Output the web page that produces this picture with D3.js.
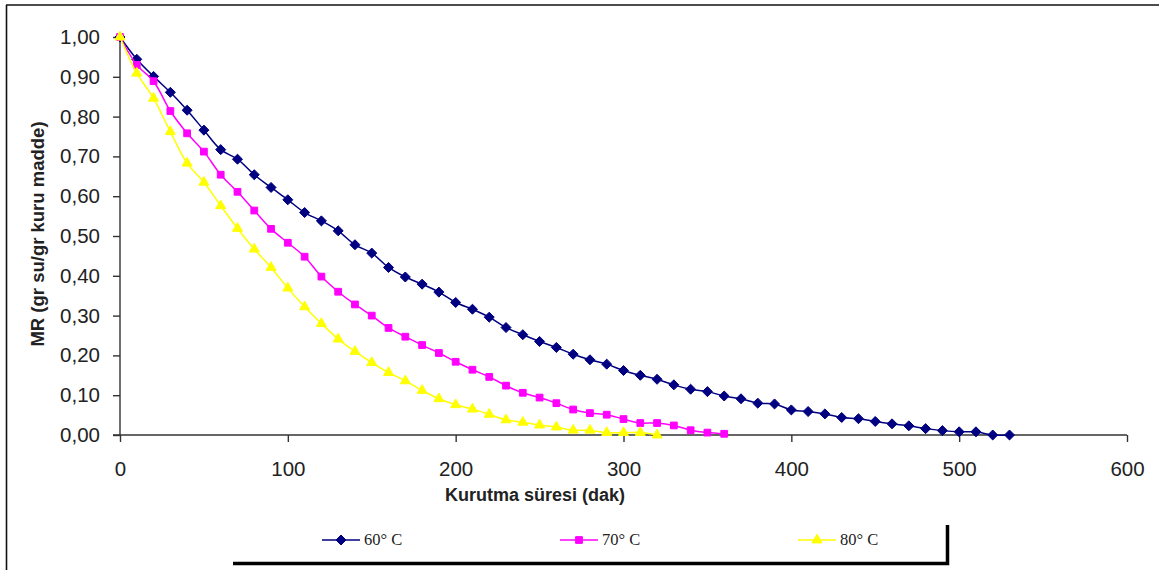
<!DOCTYPE html>
<html>
<head>
<meta charset="utf-8">
<script src="https://cdn.jsdelivr.net/npm/d3@7/dist/d3.min.js"></script>
<style>
  html, body { margin: 0; padding: 0; background: #fff; }
  svg { display: block; }
</style>
</head>
<body>
<script>
// Drying time (minutes) for each temperature
const time60 = [0,10,20,30,40,50,60,70,80,90,100,110,120,130,140,150,160,170,180,190,200,210,220,230,240,250,260,270,280,290,300,310,320,330,340,350,360,370,380,390,400,410,420,430,440,450,460,470,480,490,500,510,520,530];
const time70 = [0,10,20,30,40,50,60,70,80,90,100,110,120,130,140,150,160,170,180,190,200,210,220,230,240,250,260,270,280,290,300,310,320,330,340,350,360];
const time80 = [0,10,20,30,40,50,60,70,80,90,100,110,120,130,140,150,160,170,180,190,200,210,220,230,240,250,260,270,280,290,300,310,320];

// Moisture ratio MR (g water / g dry matter)
const mr60 = [1.00,0.944,0.901,0.861,0.816,0.766,0.717,0.693,0.654,0.622,0.591,0.559,0.538,0.513,0.478,0.457,0.421,0.397,0.379,0.359,0.333,0.316,0.296,0.270,0.252,0.235,0.220,0.203,0.189,0.178,0.162,0.150,0.140,0.126,0.115,0.109,0.098,0.091,0.080,0.078,0.063,0.059,0.053,0.044,0.041,0.034,0.028,0.023,0.016,0.011,0.008,0.008,0.000,0.000];
const mr70 = [1.00,0.930,0.889,0.814,0.758,0.712,0.654,0.611,0.564,0.518,0.483,0.448,0.398,0.360,0.328,0.300,0.269,0.247,0.226,0.206,0.184,0.164,0.146,0.124,0.106,0.094,0.080,0.064,0.055,0.051,0.040,0.030,0.030,0.024,0.012,0.006,0.003];
const mr80 = [1.00,0.909,0.846,0.762,0.683,0.635,0.576,0.519,0.467,0.421,0.369,0.322,0.280,0.241,0.210,0.182,0.157,0.136,0.112,0.091,0.076,0.065,0.052,0.038,0.032,0.025,0.020,0.012,0.012,0.006,0.006,0.006,0.000];

const seriesNames = ["60° C", "70° C", "80° C"];
const xTicks = [0,100,200,300,400,500,600];
const yTicks = [0,0.1,0.2,0.3,0.4,0.5,0.6,0.7,0.8,0.9,1.0];

const W = 1159, H = 570;
const svg = d3.select("body").append("svg").attr("width", W).attr("height", H);

// Outer chart frame (top and left edges)
svg.append("line").attr("x1", 6).attr("y1", 5).attr("x2", W).attr("y2", 5)
  .attr("stroke", "#111").attr("stroke-width", 1.6);
svg.append("line").attr("x1", 6.5).attr("y1", 5).attr("x2", 6.5).attr("y2", H)
  .attr("stroke", "#111").attr("stroke-width", 1.6);

const x = d3.scaleLinear().domain([0, 600]).range([120, 1127]);
const y = d3.scaleLinear().domain([0, 1]).range([435, 37]);

const axisColor = "#333";
const fmtY = v => d3.format(".2f")(v).replace(".", ",");

// Y axis
const yAxis = svg.append("g").attr("transform", "translate(120,0)")
  .call(d3.axisLeft(y).tickValues(yTicks).tickFormat(fmtY).tickSize(7).tickPadding(13));
// X axis
const xAxis = svg.append("g").attr("transform", "translate(0,435)")
  .call(d3.axisBottom(x).tickValues(xTicks).tickFormat(d3.format("d")).tickSize(7).tickPadding(19));

[yAxis, xAxis].forEach(g => {
  g.select(".domain").attr("stroke", axisColor).attr("stroke-width", 1.4);
  g.selectAll(".tick line").attr("stroke", axisColor).attr("stroke-width", 1.4);
  g.selectAll(".tick text").attr("fill", "#222")
    .style("font-family", "Arial, 'Liberation Sans', sans-serif").style("font-size", "20.5px");
});
yAxis.select(".domain").attr("d", "M0,435V37");
xAxis.select(".domain").attr("d", "M113,0H1127");

// Axis titles
svg.append("text").attr("x", 535).attr("y", 501).attr("text-anchor", "middle")
  .style("font-family", "Arial, 'Liberation Sans', sans-serif").style("font-size", "18px")
  .style("font-weight", "bold").attr("fill", "#222").text("Kurutma süresi (dak)");
svg.append("text").attr("transform", "translate(44,234) rotate(-90)").attr("text-anchor", "middle")
  .style("font-family", "Arial, 'Liberation Sans', sans-serif").style("font-size", "18.5px")
  .style("font-weight", "bold").attr("fill", "#222").text("MR (gr su/gr kuru madde)");

const series = [
  { name: seriesNames[0], t: time60, v: mr60, color: "#000080", symbol: d3.symbolDiamond2, size: 64 },
  { name: seriesNames[1], t: time70, v: mr70, color: "#FF00FF", symbol: d3.symbolSquare2, size: 58 },
  { name: seriesNames[2], t: time80, v: mr80, color: "#FFFF00", symbol: d3.symbolTriangle2, size: 72 }
];

const line = d3.line().x(d => x(d[0])).y(d => y(d[1])).curve(d3.curveCatmullRom.alpha(0.5));

series.forEach(s => {
  const pts = s.t.map((t, i) => [t, s.v[i]]);
  const g = svg.append("g");
  g.append("path").datum(pts).attr("d", line).attr("fill", "none")
    .attr("stroke", s.color).attr("stroke-width", 1.5);
  g.selectAll("path.m").data(pts).enter().append("path").attr("class", "m")
    .attr("transform", d => `translate(${x(d[0])},${y(d[1])})`)
    .attr("d", d3.symbol().type(s.symbol).size(s.size))
    .attr("fill", s.color).attr("stroke", s.color).attr("stroke-width", 1);
});

// Legend
const legendX = [322, 560, 798];
const legend = svg.append("g");
series.forEach((s, i) => {
  const lx = legendX[i], ly = 540;
  legend.append("line").attr("x1", lx).attr("y1", ly).attr("x2", lx + 38).attr("y2", ly)
    .attr("stroke", s.color).attr("stroke-width", 1.5);
  legend.append("path").attr("transform", `translate(${lx + 19},${ly})`)
    .attr("d", d3.symbol().type(s.symbol).size(s.size)).attr("fill", s.color)
    .attr("stroke", s.color).attr("stroke-width", 1);
  legend.append("text").attr("x", lx + 42).attr("y", ly + 5)
    .style("font-family", "'Liberation Serif', 'Times New Roman', serif").style("font-size", "16.5px")
    .attr("fill", "#222").text(s.name);
});
// Legend box shadow (bottom and right edges)
legend.append("path").attr("d", "M233,563.5H947.5V525")
  .attr("fill", "none").attr("stroke", "#000").attr("stroke-width", 3.5);
</script>
</body>
</html>
